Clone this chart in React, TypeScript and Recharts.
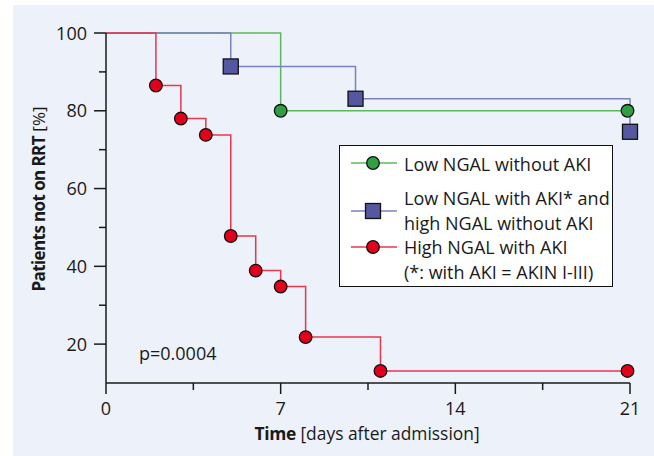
import React from 'react';
import { LineChart, Line, XAxis, YAxis, Legend } from 'recharts';

// Kaplan-Meier steps (time in days, % not on RRT)
const greenTimes = [0, 7, 20.9];
const greenValues = [100, 80, 80];
const blueTimes = [0, 5, 10, 21];
const blueValues = [100, 91.4, 83.1, 74.6];
const redTimes = [0, 2, 3, 4, 5, 6, 7, 8, 11, 20.9];
const redValues = [100, 86.5, 78, 73.8, 47.8, 38.9, 34.8, 21.8, 13.1, 13.1];

const xTicks = [0, 3.5, 7, 10.5, 14, 17.5, 21];
const xLabels = [0, 7, 14, 21];
const yTicks = [20, 30, 40, 50, 60, 70, 80, 90, 100];
const yLabels = [20, 40, 60, 80, 100];

const legendNames = [
  ['Low NGAL without AKI'],
  ['Low NGAL with AKI* and', 'high NGAL without AKI'],
  ['High NGAL with AKI', '(*: with AKI = AKIN I-III)'],
];

const toData = (ts: number[], vs: number[]) => ts.map((t, i) => ({ t, v: vs[i] }));
const greenData = toData(greenTimes, greenValues);
const blueData = toData(blueTimes, blueValues);
const redData = toData(redTimes, redValues);

const FONT = '"Open Sans", sans-serif';
const INK = '#1a1a1a';

const colors = {
  green: { line: '#5cb85c', fill: '#2ea043' },
  blue: { line: '#7c82c0', fill: '#5558a0' },
  red: { line: '#e8384f', fill: '#e2001a' },
};

const circleDot = (fill: string) => (p: any) => {
  if (p.index === 0) return <g key={`d${p.index}`} />;
  return <circle key={`d${p.index}`} cx={p.cx} cy={p.cy} r={6.3} fill={fill} stroke="#111" strokeWidth={1.3} />;
};

const squareDot = (fill: string) => (p: any) => {
  if (p.index === 0) return <g key={`d${p.index}`} />;
  return <rect key={`d${p.index}`} x={p.cx - 7.5} y={p.cy - 7.5} width={15} height={15} fill={fill} stroke="#111" strokeWidth={1.3} />;
};

const XTick = (p: any) => {
  const v = p.payload.value;
  const major = xLabels.includes(v);
  return (
    <g>
      <line x1={p.x} x2={p.x} y1={p.y} y2={p.y + (major ? 11 : 7)} stroke={INK} strokeWidth={1.5} />
      {major && (
        <text x={p.x} y={p.y + 32} textAnchor="middle" fontFamily={FONT} fontSize={18} fill={INK}>{v}</text>
      )}
    </g>
  );
};

const YTick = (p: any) => {
  const v = p.payload.value;
  const major = yLabels.includes(v);
  return (
    <g>
      <line x1={p.x} x2={p.x - (major ? 12 : 7)} y1={p.y} y2={p.y} stroke={INK} strokeWidth={1.5} />
      {major && (
        <text x={p.x - 19} y={p.y + 6.5} textAnchor="end" fontFamily={FONT} fontSize={18} fill={INK}>{v}</text>
      )}
    </g>
  );
};

const LegendIcon = ({ kind, color }: { kind: 'circle' | 'square'; color: { line: string; fill: string } }) => (
  <svg width={46} height={18} style={{ position: 'absolute', left: 11, top: -9 }}>
    <line x1={0} x2={46} y1={9} y2={9} stroke={color.line} strokeWidth={1.5} />
    {kind === 'circle' ? (
      <circle cx={22} cy={9} r={6.3} fill={color.fill} stroke="#111" strokeWidth={1.3} />
    ) : (
      <rect x={14.5} y={1.5} width={15} height={15} fill={color.fill} stroke="#111" strokeWidth={1.3} />
    )}
  </svg>
);

const renderLegend = () => {
  const rows = [
    { kind: 'circle' as const, color: colors.green, icon: 17, lines: legendNames[0], top: 6 },
    { kind: 'square' as const, color: colors.blue, icon: 65, lines: legendNames[1], top: 40 },
    { kind: 'circle' as const, color: colors.red, icon: 101, lines: legendNames[2], top: 89 },
  ];
  return (
    <div style={{ position: 'relative', width: 274, height: 142, boxSizing: 'border-box', border: '1.5px solid #111', background: '#fff', fontFamily: FONT, fontSize: 18, color: INK }}>
      {rows.map((r, i) => (
        <React.Fragment key={i}>
          <div style={{ position: 'absolute', left: 0, top: r.icon }}>
            <LegendIcon kind={r.kind} color={r.color} />
          </div>
          <div style={{ position: 'absolute', left: 64, top: r.top, lineHeight: '24.5px', whiteSpace: 'nowrap' }}>
            {r.lines.map((l, j) => <div key={j}>{l}</div>)}
          </div>
        </React.Fragment>
      ))}
    </div>
  );
};

export default function App() {
  return (
    <div style={{ position: 'absolute', left: 0, top: 0, width: 654, height: 456, background: '#fff' }}>
      <div style={{ position: 'absolute', left: 13, top: 5, width: 641, height: 451, background: '#edf1f9' }} />
      <div style={{ position: 'absolute', left: 0, top: 0 }}>
        <LineChart width={654} height={456} margin={{ top: 33, right: 24, bottom: 0, left: 0 }}>
          <XAxis
            type="number"
            dataKey="t"
            domain={[0, 21]}
            ticks={xTicks}
            interval={0}
            height={73}
            tickSize={0}
            tickMargin={0}
            tickLine={false}
            axisLine={{ stroke: INK, strokeWidth: 1.5 }}
            tick={<XTick />}
            label={{
              content: () => (
                <text x={367} y={440} textAnchor="middle" fontFamily={FONT} fontSize={17.4} fill={INK}>
                  <tspan fontWeight="bold" letterSpacing={-0.3}>Time</tspan>
                  <tspan> [days after admission]</tspan>
                </text>
              ),
            }}
          />
          <YAxis
            type="number"
            domain={[10, 100]}
            ticks={yTicks}
            interval={0}
            width={106}
            tickSize={0}
            tickMargin={0}
            tickLine={false}
            axisLine={{ stroke: INK, strokeWidth: 1.5 }}
            tick={<YTick />}
            label={{
              content: () => (
                <text x={38} y={199} transform="rotate(-90 38 199)" textAnchor="middle" dominantBaseline="central" fontFamily={FONT} fontSize={17} fill={INK}>
                  <tspan fontWeight="bold" letterSpacing={-0.6}>Patients not on RRT</tspan>
                  <tspan> [%]</tspan>
                </text>
              ),
            }}
          />
          <Legend layout="vertical" align="center" verticalAlign="middle" content={renderLegend} wrapperStyle={{ left: 339, top: 145, width: 274, height: 142 }} />
          <Line data={greenData} dataKey="v" type="stepAfter" stroke={colors.green.line} strokeWidth={1.5} dot={circleDot(colors.green.fill)} activeDot={false} isAnimationActive={false} />
          <Line data={blueData} dataKey="v" type="stepAfter" stroke={colors.blue.line} strokeWidth={1.5} dot={squareDot(colors.blue.fill)} activeDot={false} isAnimationActive={false} />
          <Line data={redData} dataKey="v" type="stepAfter" stroke={colors.red.line} strokeWidth={1.5} dot={circleDot(colors.red.fill)} activeDot={false} isAnimationActive={false} />
        </LineChart>
      </div>
      <div style={{ position: 'absolute', left: 139, top: 341, fontFamily: FONT, fontSize: 18, color: INK }}>p=0.0004</div>
    </div>
  );
}
